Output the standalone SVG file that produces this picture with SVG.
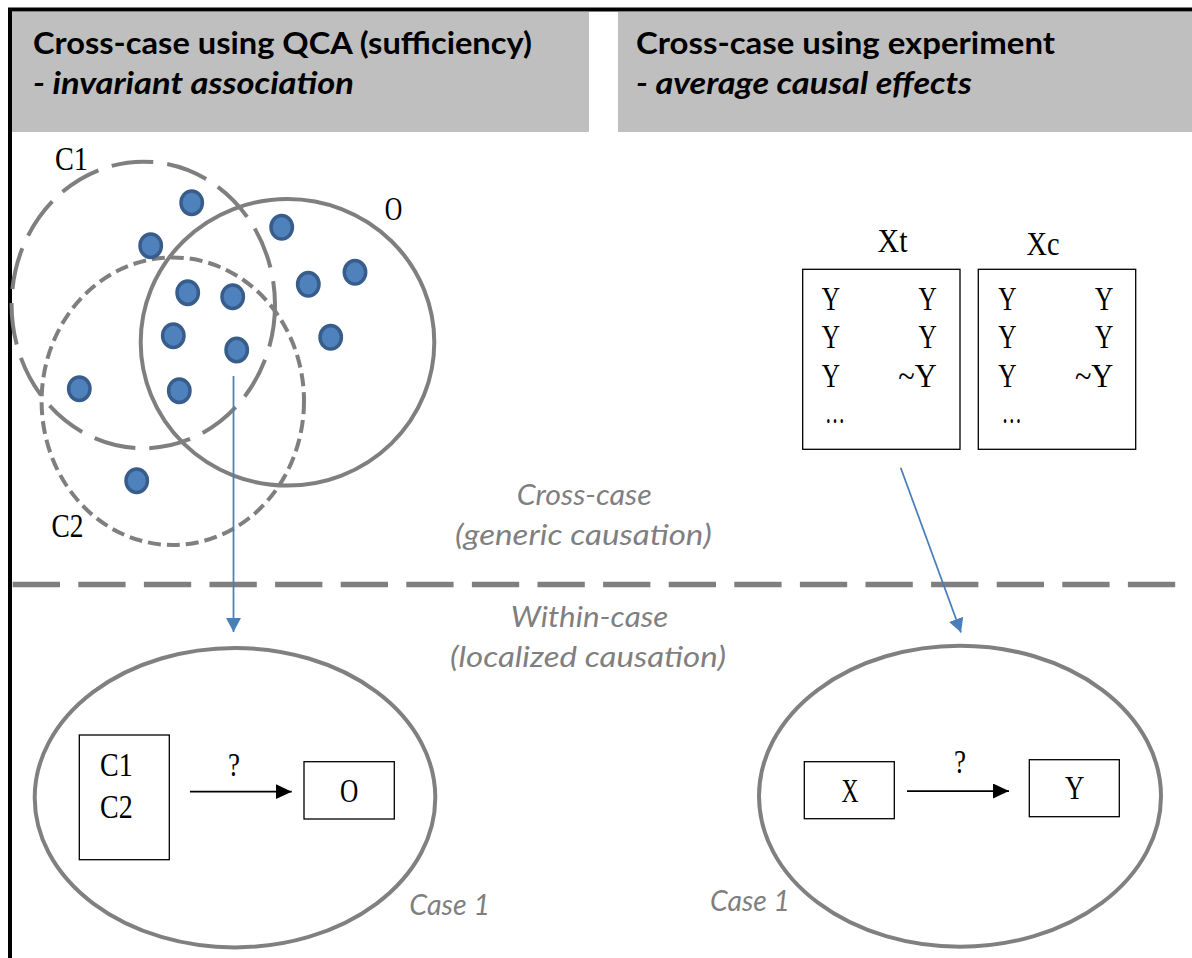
<svg xmlns="http://www.w3.org/2000/svg" width="1192" height="958" viewBox="0 0 1192 958">
  <style>
    .frame { stroke: #000; stroke-width: 4; fill: none; }
    .hdr { fill: #bfbfbf; }
    .ht { font-family: Lato, "Liberation Sans", sans-serif; font-weight: 700; font-size: 31px; fill: #000; }
    .hi { font-style: italic; }
    .set { fill: none; stroke: #7f7f7f; stroke-width: 4; }
    .lg { stroke-dasharray: 42 14; }
    .sh { stroke-dasharray: 13 6; }
    .dot { fill: #4f81bd; stroke: #385d8a; stroke-width: 3.5; }
    .lbl { font-family: "Liberation Serif", serif; font-size: 33px; fill: #000; }
    .gi { font-family: Lato, "Liberation Sans", sans-serif; font-style: italic; font-weight: 400; font-size: 28px; fill: #7f7f7f; }
    .box { fill: #fff; stroke: #000; stroke-width: 1.3; }
    .case { fill: none; stroke: #808080; stroke-width: 4; }
    .link { fill: none; stroke: #4a7ebb; stroke-width: 1.75; }
    .rel { fill: none; stroke: #000; stroke-width: 1.75; }
    .sep { stroke: #7f7f7f; stroke-width: 5.5; stroke-dasharray: 47.3 18.3; }
  </style>
  <defs>
    <marker id="blueHead" markerUnits="userSpaceOnUse" markerWidth="16" markerHeight="16" refX="14" refY="7.5" orient="auto">
      <path d="M0,0 L14,7.5 L0,15 z" fill="#4a7ebb"/>
    </marker>
    <marker id="blackHead" markerUnits="userSpaceOnUse" markerWidth="17" markerHeight="16" refX="16" refY="7.5" orient="auto">
      <path d="M0,0 L16,7.5 L0,15 z" fill="#000"/>
    </marker>
  </defs>

  <rect width="1192" height="958" fill="#fff"/>

  <!-- header bands -->
  <g id="header-qca">
    <rect class="hdr" x="12" y="12" width="577" height="120"/>
    <text class="ht" x="33" y="53.5" textLength="499" lengthAdjust="spacingAndGlyphs">Cross-case using QCA (sufficiency)</text>
    <text class="ht hi" x="33" y="94" textLength="321" lengthAdjust="spacingAndGlyphs">- invariant association</text>
  </g>
  <g id="header-experiment">
    <rect class="hdr" x="618" y="12" width="574" height="120"/>
    <text class="ht" x="636" y="53.5" textLength="419" lengthAdjust="spacingAndGlyphs">Cross-case using experiment</text>
    <text class="ht hi" x="636" y="94" textLength="336" lengthAdjust="spacingAndGlyphs">- average causal effects</text>
  </g>

  <!-- outer frame: top and left edges -->
  <g id="frame">
    <line class="frame" x1="8" y1="9.5" x2="1192" y2="9.5"/>
    <line class="frame" x1="10" y1="8" x2="10" y2="958"/>
  </g>

  <!-- set diagram: conditions C1, C2 and outcome O -->
  <g id="sets">
    <ellipse class="set lg" cx="143.3" cy="305" rx="131.7" ry="143.3"/>
    <ellipse class="set sh" cx="172.8" cy="401.2" rx="131.2" ry="143.8"/>
    <ellipse class="set" cx="287.5" cy="342.3" rx="146.8" ry="143.3"/>
    <text class="lbl" x="71.5" y="170" text-anchor="middle" textLength="33" lengthAdjust="spacingAndGlyphs">C1</text>
    <text class="lbl" x="393.5" y="220" text-anchor="middle" textLength="17.5" lengthAdjust="spacingAndGlyphs">O</text>
    <text class="lbl" x="67.5" y="537" text-anchor="middle" textLength="32" lengthAdjust="spacingAndGlyphs">C2</text>
  </g>

  <g id="cases">
    <ellipse class="dot" cx="191.7" cy="202.7" rx="10.7" ry="11.7"/>
    <ellipse class="dot" cx="150.7" cy="245.7" rx="10.7" ry="11.7"/>
    <ellipse class="dot" cx="281.7" cy="227.3" rx="10.7" ry="11.7"/>
    <ellipse class="dot" cx="187.7" cy="292.7" rx="10.7" ry="11.7"/>
    <ellipse class="dot" cx="232.7" cy="296.7" rx="10.7" ry="11.7"/>
    <ellipse class="dot" cx="308.3" cy="284.3" rx="10.7" ry="11.7"/>
    <ellipse class="dot" cx="355" cy="272.3" rx="10.7" ry="11.7"/>
    <ellipse class="dot" cx="173.3" cy="335.7" rx="10.7" ry="11.7"/>
    <ellipse class="dot" cx="236.7" cy="350" rx="10.7" ry="11.7"/>
    <ellipse class="dot" cx="330.7" cy="337.3" rx="10.7" ry="11.7"/>
    <ellipse class="dot" cx="79.3" cy="388.7" rx="10.7" ry="11.7"/>
    <ellipse class="dot" cx="179.3" cy="390.7" rx="10.7" ry="11.7"/>
    <ellipse class="dot" cx="136.7" cy="480.7" rx="10.7" ry="11.7"/>
  </g>

  <!-- treatment / control groups -->
  <g id="group-xt">
    <text class="lbl" x="892.5" y="252" text-anchor="middle" textLength="30" lengthAdjust="spacingAndGlyphs">Xt</text>
    <rect class="box" x="802.7" y="269.3" width="157.3" height="180"/>
    <text class="lbl" x="821.7" y="310" textLength="18.3" lengthAdjust="spacingAndGlyphs">Y</text>
    <text class="lbl" x="936.7" y="310" text-anchor="end" textLength="18.3" lengthAdjust="spacingAndGlyphs">Y</text>
    <text class="lbl" x="821.7" y="348.3" textLength="18.3" lengthAdjust="spacingAndGlyphs">Y</text>
    <text class="lbl" x="936.7" y="348.3" text-anchor="end" textLength="18.3" lengthAdjust="spacingAndGlyphs">Y</text>
    <text class="lbl" x="821.7" y="386.7" textLength="18.3" lengthAdjust="spacingAndGlyphs">Y</text>
    <text class="lbl" x="936.7" y="386.7" text-anchor="end" textLength="38.4" lengthAdjust="spacingAndGlyphs">~Y</text>
    <text class="lbl" x="825" y="423.3" textLength="20" lengthAdjust="spacingAndGlyphs">…</text>
  </g>
  <g id="group-xc">
    <text class="lbl" x="1043" y="255" text-anchor="middle" textLength="33" lengthAdjust="spacingAndGlyphs">Xc</text>
    <rect class="box" x="978.3" y="269.3" width="157.4" height="180"/>
    <text class="lbl" x="998.3" y="310" textLength="18.3" lengthAdjust="spacingAndGlyphs">Y</text>
    <text class="lbl" x="1113.3" y="310" text-anchor="end" textLength="18.3" lengthAdjust="spacingAndGlyphs">Y</text>
    <text class="lbl" x="998.3" y="348.3" textLength="18.3" lengthAdjust="spacingAndGlyphs">Y</text>
    <text class="lbl" x="1113.3" y="348.3" text-anchor="end" textLength="18.3" lengthAdjust="spacingAndGlyphs">Y</text>
    <text class="lbl" x="998.3" y="386.7" textLength="18.3" lengthAdjust="spacingAndGlyphs">Y</text>
    <text class="lbl" x="1113.3" y="386.7" text-anchor="end" textLength="38.4" lengthAdjust="spacingAndGlyphs">~Y</text>
    <text class="lbl" x="1001.7" y="423.3" textLength="20" lengthAdjust="spacingAndGlyphs">…</text>
  </g>

  <!-- level separator and its captions -->
  <g id="levels">
    <line class="sep" x1="12.7" y1="584.5" x2="1192" y2="584.5"/>
    <text class="gi" x="516.7" y="505" textLength="135" lengthAdjust="spacingAndGlyphs">Cross-case</text>
    <text class="gi" x="455" y="545" textLength="256.7" lengthAdjust="spacingAndGlyphs">(generic causation)</text>
    <text class="gi" x="510.7" y="626.7" textLength="157.6" lengthAdjust="spacingAndGlyphs">Within-case</text>
    <text class="gi" x="450" y="666.7" textLength="276" lengthAdjust="spacingAndGlyphs">(localized causation)</text>
  </g>

  <!-- single case, QCA side -->
  <g id="case-qca">
    <ellipse class="case" cx="235" cy="797.7" rx="200.3" ry="149.7"/>
    <rect class="box" x="79.3" y="735" width="90" height="124.7"/>
    <text class="lbl" x="116.3" y="776" text-anchor="middle" textLength="32.7" lengthAdjust="spacingAndGlyphs">C1</text>
    <text class="lbl" x="116.3" y="818.3" text-anchor="middle" textLength="32.7" lengthAdjust="spacingAndGlyphs">C2</text>
    <rect class="box" x="304" y="761.7" width="90.3" height="57.3"/>
    <text class="lbl" x="349.2" y="801.7" text-anchor="middle" textLength="18.3" lengthAdjust="spacingAndGlyphs">O</text>
    <text class="lbl" x="234" y="776" text-anchor="middle" textLength="12" lengthAdjust="spacingAndGlyphs">?</text>
    <text class="gi" x="409.3" y="915" textLength="80.7" lengthAdjust="spacingAndGlyphs">Case 1</text>
  </g>

  <!-- single case, experiment side -->
  <g id="case-experiment">
    <ellipse class="case" cx="960" cy="796.2" rx="201" ry="150.5"/>
    <rect class="box" x="804.3" y="761.7" width="90" height="57"/>
    <text class="lbl" x="850" y="801.7" text-anchor="middle" textLength="17" lengthAdjust="spacingAndGlyphs">X</text>
    <rect class="box" x="1029.3" y="759.7" width="90" height="57"/>
    <text class="lbl" x="1074.7" y="799.3" text-anchor="middle" textLength="19.3" lengthAdjust="spacingAndGlyphs">Y</text>
    <text class="lbl" x="960" y="773.3" text-anchor="middle" textLength="12" lengthAdjust="spacingAndGlyphs">?</text>
    <text class="gi" x="710" y="910.7" textLength="80" lengthAdjust="spacingAndGlyphs">Case 1</text>
  </g>

  <!-- connectors -->
  <g id="connectors">
    <line class="link" x1="233.5" y1="376" x2="233.5" y2="632" marker-end="url(#blueHead)"/>
    <line class="link" x1="900.7" y1="467.7" x2="961" y2="632.5" marker-end="url(#blueHead)"/>
    <line class="rel" x1="190" y1="791.7" x2="291.7" y2="791.7" marker-end="url(#blackHead)"/>
    <line class="rel" x1="907" y1="791" x2="1009" y2="791" marker-end="url(#blackHead)"/>
  </g>
</svg>
